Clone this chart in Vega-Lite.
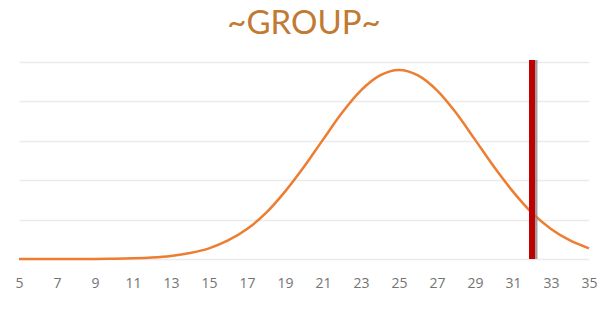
{
  "$schema": "https://vega.github.io/schema/vega-lite/v6.json",
  "width": 570,
  "height": 197,
  "autosize": {"type": "none"},
  "padding": {"left": 19, "top": 62, "right": 16, "bottom": 54},
  "background": "white",
  "title": {
    "text": "~GROUP~",
    "color": "#C07A33",
    "font": "Lato",
    "fontSize": 33,
    "fontWeight": "normal",
    "anchor": "middle",
    "offset": 16
  },
  "config": {"view": {"stroke": null}},
  "datasets": {
    "curve": [
      {"x": 5, "y": 0.0}, {"x": 6, "y": 0.0}, {"x": 7, "y": 0.0}, {"x": 8, "y": 0.001},
      {"x": 9, "y": 0.003}, {"x": 10, "y": 0.007}, {"x": 11, "y": 0.017}, {"x": 12, "y": 0.037},
      {"x": 13, "y": 0.077}, {"x": 14, "y": 0.15}, {"x": 15, "y": 0.27}, {"x": 16, "y": 0.47},
      {"x": 17, "y": 0.76}, {"x": 18, "y": 1.17}, {"x": 19, "y": 1.71}, {"x": 20, "y": 2.34},
      {"x": 21, "y": 3.03}, {"x": 22, "y": 3.71}, {"x": 23, "y": 4.28}, {"x": 24, "y": 4.66},
      {"x": 25, "y": 4.8}, {"x": 26, "y": 4.66}, {"x": 27, "y": 4.28}, {"x": 28, "y": 3.71},
      {"x": 29, "y": 3.03}, {"x": 30, "y": 2.34}, {"x": 31, "y": 1.71}, {"x": 32, "y": 1.17},
      {"x": 33, "y": 0.76}, {"x": 34, "y": 0.47}, {"x": 35, "y": 0.27}
    ],
    "marker": [{"x": 32, "y": 0, "y1": 5.05}]
  },
  "encoding": {
    "x": {
      "field": "x", "type": "quantitative",
      "scale": {"domain": [5, 35], "nice": false, "zero": false},
      "axis": {
        "values": [5,7,9,11,13,15,17,19,21,23,25,27,29,31,33,35],
        "tickCount": 16,
        "title": null, "grid": false, "ticks": false, "domain": false,
        "labelFont": "Open Sans", "labelFontSize": 14, "labelColor": "#737373",
        "labelPadding": 17, "labelFlush": false, "labelOverlap": false
      }
    },
    "y": {
      "field": "y", "type": "quantitative",
      "scale": {"domain": [0, 5], "nice": false},
      "axis": {
        "values": [0,1,2,3,4,5], "tickCount": 6, "title": null, "labels": false, "ticks": false,
        "domain": false, "grid": true, "gridColor": "#ebebeb", "gridWidth": 1.5,
        "labelOverlap": false
      }
    }
  },
  "layer": [
    {
      "data": {"name": "curve"},
      "mark": {"type": "line", "color": "#ED7D31", "strokeWidth": 2.5, "interpolate": "monotone"}
    },
    {
      "data": {"name": "marker"},
      "mark": {"type": "rule", "color": "#8a8a8a", "strokeWidth": 3, "xOffset": 4, "opacity": 0.8, "clip": false},
      "encoding": {"y2": {"field": "y1"}}
    },
    {
      "data": {"name": "marker"},
      "mark": {"type": "rule", "color": "#C00000", "strokeWidth": 6, "clip": false},
      "encoding": {"y2": {"field": "y1"}}
    }
  ]
}
